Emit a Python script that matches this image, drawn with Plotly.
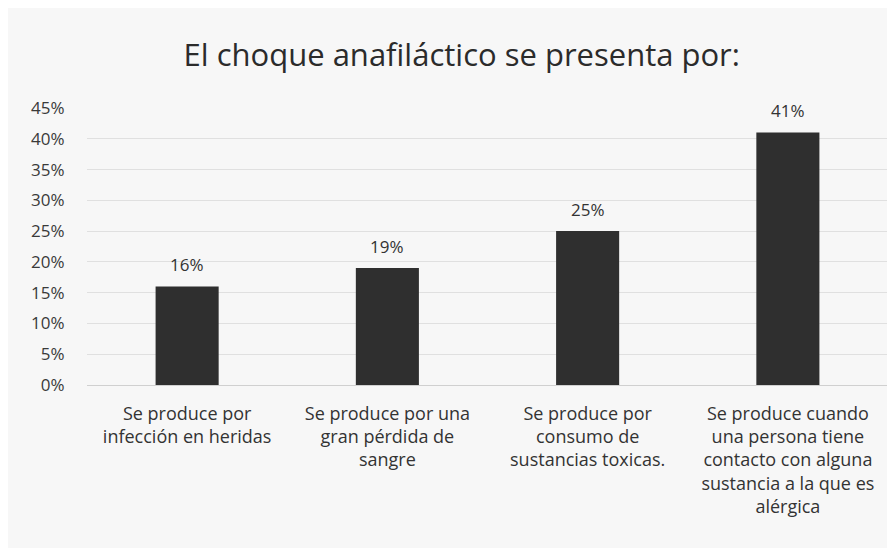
import plotly.graph_objects as go

categories = [
    "Se produce por<br>infección en heridas",
    "Se produce por una<br>gran pérdida de<br>sangre",
    "Se produce por<br>consumo de<br>sustancias toxicas.",
    "Se produce cuando<br>una persona tiene<br>contacto con alguna<br>sustancia a la que es<br>alérgica",
]
values = [0.16, 0.19, 0.25, 0.41]
labels = ["16%", "19%", "25%", "41%"]
tick_vals = [0, 0.05, 0.10, 0.15, 0.20, 0.25, 0.30, 0.35, 0.40, 0.45]
tick_text = ["0%", "5%", "10%", "15%", "20%", "25%", "30%", "35%", "40%", "45%"]

font_family = "'Open Sans', Lato, sans-serif"

fig = go.Figure(
    go.Bar(
        x=categories,
        y=values,
        marker=dict(color="#2f2f2f", line=dict(width=0)),
        width=0.315,
        cliponaxis=False,
    )
)

for cat, val, lab in zip(categories, values, labels):
    fig.add_annotation(
        x=cat,
        y=val,
        text=lab,
        showarrow=False,
        yanchor="middle",
        yshift=22,
        font=dict(size=17, color="#333333", family=font_family),
    )

fig.update_layout(
    width=895,
    height=548,
    paper_bgcolor="#f7f7f7",
    plot_bgcolor="#f7f7f7",
    margin=dict(l=79, r=15, t=100, b=171),
    showlegend=False,
    title=dict(
        text="El choque anafiláctico se presenta por:",
        x=0.507,
        xanchor="center",
        y=0.914,
        yanchor="middle",
        font=dict(size=31, color="#2b2b2b", family=font_family),
    ),
    font=dict(family=font_family, color="#333333"),
)

fig.update_yaxes(
    range=[0, 0.45],
    tickvals=tick_vals,
    ticktext=tick_text,
    showgrid=True,
    gridcolor="#e0e0e0",
    gridwidth=1,
    zeroline=False,
    showline=False,
    ticks="outside",
    ticklen=18,
    tickcolor="rgba(0,0,0,0)",
    tickfont=dict(size=17, color="#3a3a3a", family=font_family),
)

fig.update_xaxes(
    showgrid=False,
    showline=True,
    linecolor="#d0d0d0",
    linewidth=1,
    ticks="outside",
    ticklen=12,
    tickcolor="rgba(0,0,0,0)",
    tickfont=dict(size=18, color="#333333", family=font_family),
    tickangle=0,
)

fig.write_html("out.html")
